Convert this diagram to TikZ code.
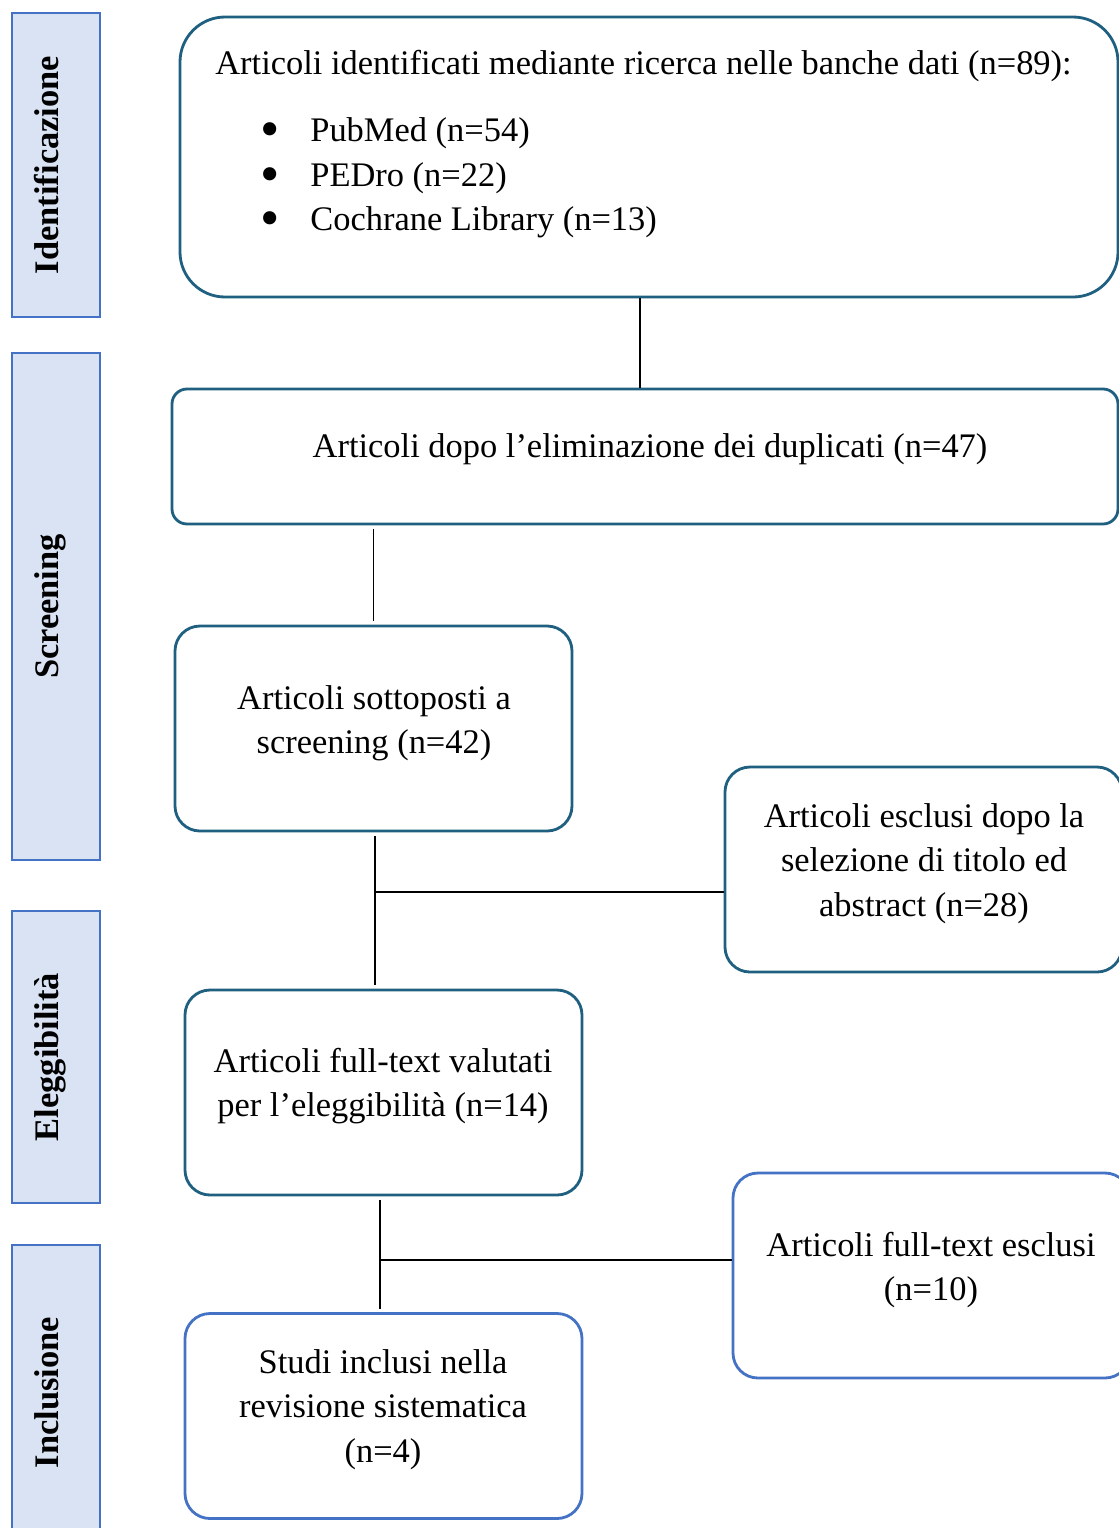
\documentclass[tikz,border=0pt]{standalone}
\usepackage{fontspec}
\setmainfont{Liberation Serif}
\definecolor{phaseblue}{RGB}{68, 114, 196}
\definecolor{phasefill}{RGB}{218, 227, 243}
\definecolor{flowteal}{RGB}{31, 96, 128}
\usetikzlibrary{positioning, calc}
\tikzset{
    phasebar/.style={draw=phaseblue, fill=phasefill, line width=1.2pt, rectangle, minimum width=1.76cm},
    phaselabel/.style={font=\fontsize{19.6}{24}\selectfont\bfseries, rotate=90, anchor=base},
    flowbox/.style={draw=flowteal, line width=1.6pt, rectangle, rounded corners=0.5cm, minimum width=7.94cm, minimum height=4.1cm},
    finalbox/.style={flowbox, draw=phaseblue},
    flowtext/.style={font=\fontsize{19.6}{25.3}\selectfont, align=center},
    listtext/.style={flowtext, inner sep=0pt, anchor=base west},
    listdot/.style={flowtext, inner sep=0pt, anchor=base},
    link/.style={line width=1pt, draw=black},
}

\begin{document}
\begin{tikzpicture}
    \useasboundingbox (0,0) rectangle (22.38,-30.56);

    % phase bars
    \node[phasebar, minimum height=6.08cm] (idbar) at (1.12,-3.30) {};
    \node[phaselabel] (idlabel) at (1.16,-3.30) {Identificazione};
    \node[phasebar, minimum height=10.14cm] (scrbar) at (1.12,-12.13) {};
    \node[phaselabel] (scrlabel) at (1.16,-12.13) {Screening};
    \node[phasebar, minimum height=5.84cm] (eligbar) at (1.12,-21.14) {};
    \node[phaselabel] (eliglabel) at (1.16,-21.14) {Eleggibilità};
    \node[phasebar, minimum height=6.1cm] (inclbar) at (1.12,-27.95) {};
    \node[phaselabel] (incllabel) at (1.16,-27.85) {Inclusione};

    % database search
    \node[flowbox, rounded corners=0.9cm, minimum width=18.76cm, minimum height=5.6cm] (records) at (12.98,-3.14) {};
    \node[listtext] (recordstxt) at (4.30,-1.49) {Articoli identificati mediante ricerca nelle banche dati (n=89):};
    \node[listdot] (dot1) at (5.40,-2.95) {\scalebox{1.6}{\textbullet}};
    \node[listtext] (pubmed) at (6.20,-2.83) {PubMed (n=54)};
    \node[listdot] (dot2) at (5.40,-3.85) {\scalebox{1.6}{\textbullet}};
    \node[listtext] (pedro) at (6.20,-3.73) {PEDro (n=22)};
    \node[listdot] (dot3) at (5.40,-4.73) {\scalebox{1.6}{\textbullet}};
    \node[listtext] (cochrane) at (6.20,-4.61) {Cochrane Library (n=13)};

    % duplicates removed
    \node[flowbox, rounded corners=0.3cm, minimum width=18.92cm, minimum height=2.7cm] (dedup) at (12.9,-9.13) {};
    \node[flowtext] (deduptxt) at (13.0,-8.99) {Articoli dopo l’eliminazione dei duplicati (n=47)};

    % screening
    \node[flowbox] (screened) at (7.47,-14.57) {};
    \node[flowtext] (screenedtxt) at (7.48,-14.46) {Articoli sottoposti a\\screening (n=42)};
    \node[flowbox] (excl1) at (18.47,-17.39) {};
    \node[flowtext] (excl1txt) at (18.48,-17.27) {Articoli esclusi dopo la\\selezione di titolo ed\\abstract (n=28)};

    % eligibility
    \node[flowbox] (fulltext) at (7.67,-21.85) {};
    \node[flowtext] (fulltexttxt) at (7.66,-21.72) {Articoli full-text valutati\\per l’eleggibilità (n=14)};
    \node[finalbox] (excl2) at (18.63,-25.51) {};
    \node[flowtext] (excl2txt) at (18.62,-25.40) {Articoli full-text esclusi\\(n=10)};

    % included
    \node[finalbox] (included) at (7.67,-28.32) {};
    \node[flowtext] (includedtxt) at (7.66,-28.19) {Studi inclusi nella\\revisione sistematica\\(n=4)};

    % connectors
    \coordinate (split0) at (12.80,-6.5);
    \coordinate (split1) at (7.50,-17.84);
    \coordinate (split2) at (7.60,-25.20);
    \draw[link] (records.south -| split0) -- (dedup.north -| split0);
    \draw[link, shorten <=2pt, shorten >=2pt] (dedup.south -| screened.north) -- (screened.north);
    \draw[link, shorten <=2pt, shorten >=2pt] (screened.south -| split1) -- (fulltext.north -| split1);
    \draw[link] (split1) -- (split1 -| excl1.west);
    \draw[link, shorten <=2pt, shorten >=2pt] (fulltext.south -| split2) -- (included.north -| split2);
    \draw[link] (split2) -- (split2 -| excl2.west);
\end{tikzpicture}
\end{document}
